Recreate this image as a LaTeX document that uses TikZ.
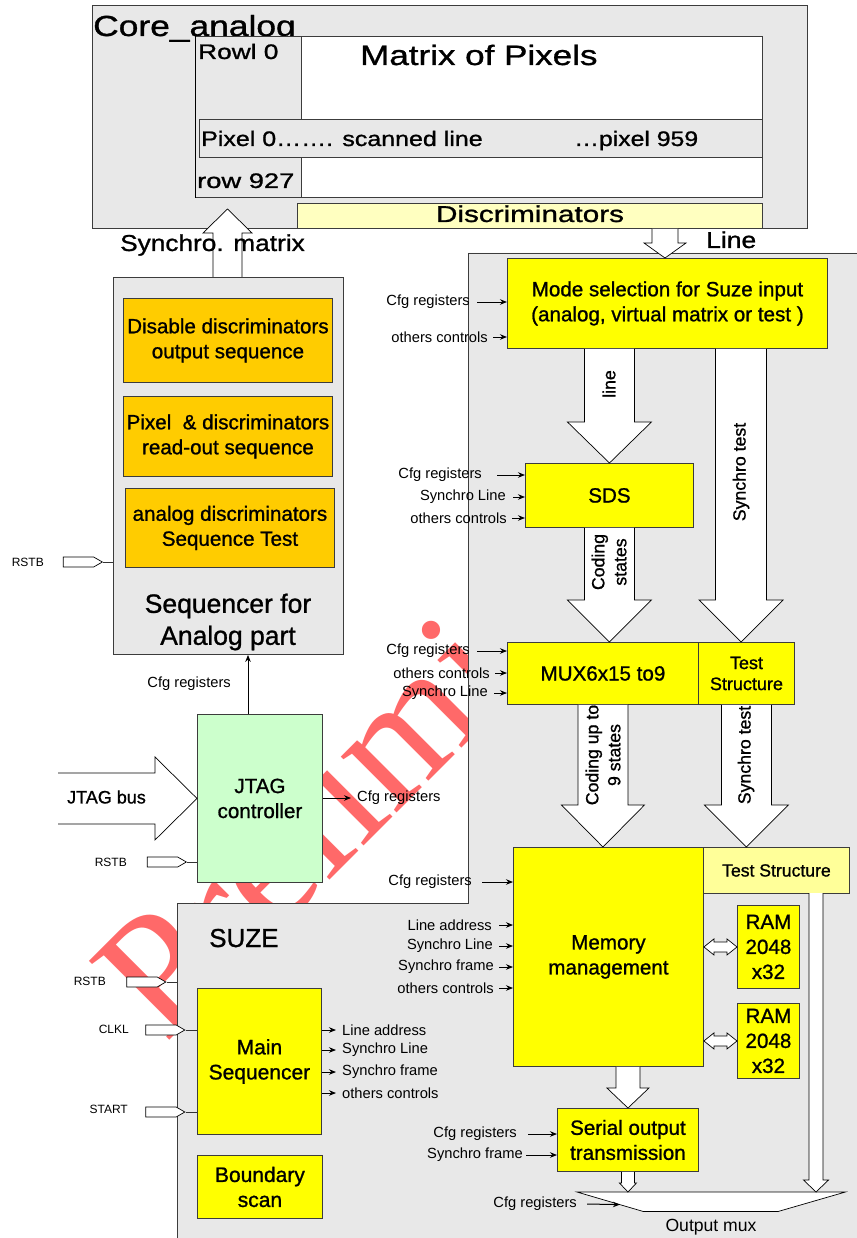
\documentclass[tikz,border=0pt]{standalone}
\usepackage{fontspec}
\usepackage{graphicx}
\setmainfont{Liberation Sans}
\newfontfamily\hv{Liberation Sans}[FakeBold=1.0]
\newfontfamily\wmfont{Liberation Serif}
\usetikzlibrary{calc,arrows.meta,shapes.symbols}
\definecolor{gbox}{RGB}{232,232,232}
\definecolor{lnc}{RGB}{60,60,60}
\definecolor{ylw}{RGB}{255,255,0}
\definecolor{org}{RGB}{255,204,0}
\definecolor{lgrn}{RGB}{204,255,204}
\definecolor{lylw}{RGB}{255,255,192}
\definecolor{lylw2}{RGB}{255,255,153}
\definecolor{wm}{RGB}{255,105,105}
\newcommand\sx[2]{\scalebox{#1}[1]{#2}}
% hollow block arrows: #1 start (y used), #2 tip, #3 shaft half, #4 head half, #5 head length
\newcommand\blkdown[5]{\draw[harrow] let \p1=(#1), \p2=(#2) in
  (\x2-#3,\y1) -- (\x2-#3,\y2+#5) -- (\x2-#4,\y2+#5) -- (\x2,\y2) -- (\x2+#4,\y2+#5) -- (\x2+#3,\y2+#5) -- (\x2+#3,\y1);}
\newcommand\blkup[5]{\draw[harrow] let \p1=(#1), \p2=(#2) in
  (\x2-#3,\y1) -- (\x2-#3,\y2-#5) -- (\x2-#4,\y2-#5) -- (\x2,\y2) -- (\x2+#4,\y2-#5) -- (\x2+#3,\y2-#5) -- (\x2+#3,\y1);}
\newcommand\blkright[5]{\draw[harrow] let \p1=(#1), \p2=(#2) in
  (\x1,\y2+#3) -- (\x2-#5,\y2+#3) -- (\x2-#5,\y2+#4) -- (\x2,\y2) -- (\x2-#5,\y2-#4) -- (\x2-#5,\y2-#3) -- (\x1,\y2-#3);}
\newcommand\blkdbl[5]{\draw[harrow] let \p1=(#1), \p2=(#2) in
  (\x1,\y1) -- (\x1+#5,\y1+#4) -- (\x1+#5,\y1+#3) -- (\x2-#5,\y1+#3) -- (\x2-#5,\y1+#4) -- (\x2,\y1)
  -- (\x2-#5,\y1-#4) -- (\x2-#5,\y1-#3) -- (\x1+#5,\y1-#3) -- (\x1+#5,\y1-#4) -- cycle;}
\begin{document}
\begin{tikzpicture}[x=1pt,y=-1pt,
  box/.style={draw=lnc, line width=0.9pt, inner sep=0pt, align=center},
  gbx/.style={box, fill=gbox},
  ybx/.style={box, fill=ylw},
  obx/.style={box, fill=org},
  nw/.style={anchor=north west},
  harrow/.style={draw=black, fill=white, line width=0.7pt, line join=miter},
  sarr/.style={draw=black, line width=1pt, -{Stealth[length=7pt,width=5.5pt]}},
  wire/.style={draw=black!80, line width=0.8pt},
  pinbox/.style={draw=black, line width=0.7pt, fill=white, signal, signal to=east, signal pointer angle=60, minimum width=39pt, minimum height=10pt, inner sep=0pt},
  lbls/.style={font=\fontsize{14.7}{17}\selectfont, inner sep=0pt},
  lbrs/.style={font=\fontsize{12}{14}\selectfont, inner sep=0pt},
  arrl/.style={font=\hv\fontsize{17.7}{22}\selectfont, inner sep=0pt, align=center, rotate=90},
  fbig/.style={font=\hv\fontsize{20.6}{25}\selectfont},
]
\useasboundingbox (0,0) rectangle (856,1238);

% watermark
\node[font=\wmfont\fontsize{172}{172}\selectfont, text=wm, rotate=45, anchor=base west, inner sep=0pt] (wmark) at (165,1045) {Preliminary};

% Core analog
\node[gbx, nw, minimum width=715pt, minimum height=223pt] (core) at (92,5) {};
\node[anchor=base west, inner sep=0pt, font=\hv\fontsize{29}{29}\selectfont] (coret) at (93,36) {\sx{1.22}{Core\_analog}};
\node[box, fill=white, nw, minimum width=567pt, minimum height=161pt] (pixm) at (195,36) {};
\node[gbx, nw, minimum width=106pt, minimum height=161pt] (rowcol) at (195,36) {};
\draw[black, line width=1pt] (rowcol.north west) -- (rowcol.south west);
\node[anchor=base west, inner sep=0pt, font=\hv\fontsize{21}{21}\selectfont] (row0) at (198,59) {\sx{1.25}{Rowl 0}};
\node[anchor=base west, inner sep=0pt, font=\hv\fontsize{28}{28}\selectfont] (mtitle) at (360,65) {\sx{1.25}{Matrix of Pixels}};
\node[gbx, nw, minimum width=563pt, minimum height=38pt] (scan) at (199,119) {};
\node[anchor=base west, inner sep=0pt, font=\hv\fontsize{21}{21}\selectfont] (scanl) at (201,146) {\sx{1.19}{Pixel 0……. scanned line}};
\node[anchor=base west, inner sep=0pt, font=\hv\fontsize{21}{21}\selectfont] (scanr) at (574,146) {\sx{1.18}{…pixel 959}};
\node[anchor=base west, inner sep=0pt, font=\hv\fontsize{21}{21}\selectfont] (row927) at (197,188) {\sx{1.3}{row 927}};
\node[box, fill=lylw, nw, minimum width=465pt, minimum height=25pt] (disc) at (297,203) {};
\node[anchor=base, inner sep=0pt, font=\hv\fontsize{23}{23}\selectfont] (disct) at (530,222) {\sx{1.29}{Discriminators}};

% Sequencer for analog part
\node[gbx, nw, minimum width=230pt, minimum height=377pt] (seq) at (113,277) {};
\node[obx, nw, fbig, minimum width=209pt, minimum height=84pt] (sq1) at (123,298) {Disable discriminators\\output sequence};
\node[obx, nw, fbig, minimum width=209pt, minimum height=80pt] (sq2) at (123,396) {Pixel\ \ \& discriminators\\read-out sequence};
\node[obx, nw, fbig, minimum width=209pt, minimum height=79pt] (sq3) at (125,488) {analog discriminators\\Sequence Test};
\node[inner sep=0pt, align=center, font=\hv\fontsize{26.5}{32}\selectfont] (seqt) at (228,622) {Sequencer for\\Analog part};
\node[pinbox] (rst1) at (78.5,562) {};
\node[lbrs, anchor=east] (rst1l) at (44,562) {RSTB};
\draw[wire] (rst1.east) -- (rst1 -| seq.west);

% Synchro matrix arrow
\coordinate (smtip) at (227.5,209);
\blkup{seq.north}{smtip}{14.5pt}{24.5pt}{24pt}
\node[anchor=base west, inner sep=0pt, font=\hv\fontsize{23}{23}\selectfont] (smt) at (120,251) {\sx{1.14}{Synchro. matrix}};

% SUZE region
\coordinate (suzeL) at (177,903);
\fill[gbox] (468,253) -- (860,253) -- (860,1240) -- (177,1240) -- (177,903) -- (468,903) -- cycle;
\draw[lnc, line width=0.9pt] (177,1240) -- (suzeL) -- (468,903) -- (468,253) -- (860,253);
\node[anchor=base west, inner sep=0pt, font=\hv\fontsize{26}{26}\selectfont] (suzet) at (209,947) {SUZE};

% Mode selection
\node[ybx, nw, fbig, minimum width=320pt, minimum height=90pt] (mode) at (507,258) {Mode selection for Suze input\\(analog, virtual matrix or test )};
\node[lbls, anchor=east] (mi1) at (470,302) {Cfg registers};
\draw[sarr] ([xshift=7pt]mi1.east) -- (mi1 -| mode.west);
\node[lbls, anchor=east] (mi2) at (488,337) {others controls};
\draw[sarr] ([xshift=5pt]mi2.east) -- (mi2 -| mode.west);

% Line arrow
\coordinate (lntip) at (665,258);
\blkdown{disc.south}{lntip}{13pt}{21pt}{15pt}
\node[anchor=base west, inner sep=0pt, font=\hv\fontsize{23}{23}\selectfont] (linet) at (706,248) {\sx{1.15}{Line}};

% JTAG
\node[box, fill=lgrn, nw, fbig, minimum width=125pt, minimum height=168pt] (jtag) at (197,714) {JTAG\\controller};
\coordinate (jbs) at (58,798);
\blkright{jbs}{jtag.west}{25.5pt}{41.5pt}{42pt}
\node[inner sep=0pt, font=\hv\fontsize{18}{18}\selectfont] (jbl) at (106.5,797) {JTAG bus};
\coordinate (jup) at (248,714);
\draw[sarr] (jup) -- (jup |- seq.south);
\node[lbls, anchor=east] (jupl) at (231,684) {Cfg registers};
\node[lbls, anchor=west] (jrl) at (357,798) {Cfg registers};
\draw[sarr] (jtag.east |- jrl) -- ([xshift=-6pt]jrl.west);
\node[pinbox] (rst2) at (162.5,862) {};
\node[lbrs, anchor=east] (rst2l) at (127,862) {RSTB};
\draw[wire] (rst2.east) -- (rst2 -| jtag.west);

% SDS
\node[ybx, nw, fbig, minimum width=168pt, minimum height=64pt] (sds) at (525,463) {SDS};
\node[lbls, anchor=east] (si1) at (482,475) {Cfg registers};
\draw[sarr] ([xshift=15pt]si1.east) -- (si1 -| sds.west);
\node[lbls, anchor=east] (si2) at (506,497) {Synchro Line};
\draw[sarr] ([xshift=7pt]si2.east) -- (si2 -| sds.west);
\node[lbls, anchor=east] (si3) at (507,518) {others controls};
\draw[sarr] ([xshift=5pt]si3.east) -- (si3 -| sds.west);

% MUX and test structure
\node[ybx, nw, fbig, minimum width=191pt, minimum height=62pt] (mux) at (507,642) {MUX6x15 to9};
\node[ybx, nw, font=\hv\fontsize{18}{21}\selectfont, minimum width=96pt, minimum height=62pt] (test1) at (698,642) {Test\\Structure};
\node[lbls, anchor=east] (xi1) at (470,651) {Cfg registers};
\draw[sarr] ([xshift=7pt]xi1.east) -- (xi1 -| mux.west);
\node[lbls, anchor=east] (xi2) at (490,673) {others controls};
\draw[sarr] ([xshift=5pt]xi2.east) -- (xi2 -| mux.west);
\node[lbls, anchor=east] (xi3) at (488,693) {Synchro Line};
\draw[sarr] ([xshift=6pt]xi3.east) -- (xi3 -| mux.west);

% block arrows in SUZE
\blkdown{mode.south}{sds.north}{25pt}{42pt}{41pt}
\node[arrl] (linel) at (609,384) {line};
\coordinate (st1tip) at (741,642);
\blkdown{mode.south}{st1tip}{25.5pt}{42pt}{42pt}
\node[arrl] (st1l) at (741,472) {Synchro test};
\coordinate (cstip) at (sds.south |- mux.north);
\blkdown{sds.south}{cstip}{25pt}{42pt}{42pt}
\node[arrl] (csl) at (609,562) {Coding\\states};

% Memory
\node[ybx, nw, fbig, minimum width=190pt, minimum height=219pt] (mem) at (513,847) {Memory\\management};
\node[box, fill=lylw2, nw, font=\hv\fontsize{17.6}{21}\selectfont, minimum width=146pt, minimum height=46pt] (test2) at (703,847) {Test Structure};
\coordinate (cutip) at (mux.south |- mem.north);
\blkdown{mux.south}{cutip}{25pt}{41.5pt}{42pt}
\node[arrl] (cul) at (603,755) {Coding up to\\9 states};
\coordinate (st2tip) at (test1.south |- test2.north);
\blkdown{test1.south}{st2tip}{25pt}{42pt}{42pt}
\node[arrl] (st2l) at (746,755) {Synchro test};
\node[lbls, anchor=east] (ei1) at (472,882) {Cfg registers};
\draw[sarr] ([xshift=10pt]ei1.east) -- (ei1 -| mem.west);
\node[lbls, anchor=east] (ei2) at (492,925) {Line address};
\draw[sarr] ([xshift=7pt]ei2.east) -- (ei2 -| mem.west);
\node[lbls, anchor=east] (ei3) at (493,946) {Synchro Line};
\draw[sarr] ([xshift=6pt]ei3.east) -- (ei3 -| mem.west);
\node[lbls, anchor=east] (ei4) at (494,967) {Synchro frame};
\draw[sarr] ([xshift=5pt]ei4.east) -- (ei4 -| mem.west);
\node[lbls, anchor=east] (ei5) at (494,988) {others controls};
\draw[sarr] ([xshift=5pt]ei5.east) -- (ei5 -| mem.west);

% RAMs
\node[ybx, nw, fbig, minimum width=62pt, minimum height=83pt] (ram1) at (737,905) {RAM\\2048\\x32};
\node[ybx, nw, fbig, minimum width=62pt, minimum height=75pt] (ram2) at (737,1003) {RAM\\2048\\x32};
\blkdbl{mem.east |- ram1}{ram1.west}{5pt}{8pt}{10pt}
\blkdbl{mem.east |- ram2}{ram2.west}{5pt}{8pt}{10pt}

% Serial output
\node[ybx, nw, fbig, minimum width=141pt, minimum height=63pt] (serial) at (557,1108) {Serial output\\transmission};
\blkdown{mem.south}{serial.north}{12pt}{21pt}{20pt}
\node[lbls, anchor=east] (ri1) at (517,1134) {Cfg registers};
\draw[sarr] ([xshift=11pt]ri1.east) -- (ri1 -| serial.west);
\node[lbls, anchor=east] (ri2) at (523,1155) {Synchro frame};
\draw[sarr] ([xshift=3pt]ri2.east) -- (ri2 -| serial.west);

% Output mux
\node[minimum width=268pt, minimum height=19pt, inner sep=0pt, nw] (omux) at (577,1192) {};
\draw[harrow] (omux.north west) -- (omux.north east) -- ([xshift=-67pt]omux.south east) -- ([xshift=66pt]omux.south west) -- cycle;
\node[font=\fontsize{17.6}{20}\selectfont, inner sep=0pt] (omuxl) at (711,1227) {Output mux};
\coordinate (sotip) at (serial.south |- omux.north);
\blkdown{serial.south}{sotip}{6.5pt}{8.5pt}{9pt}
\coordinate (t2o) at (816,893);
\coordinate (t2tip) at (t2o |- omux.north);
\blkdown{t2o}{t2tip}{7pt}{12.5pt}{12pt}
\coordinate (mxc) at ($(omux.north west)!0.65!([xshift=66pt]omux.south west)$);
\node[lbls, anchor=east] (mxl) at (577,1204) {Cfg registers};
\draw[sarr] ([xshift=10pt]mxl.east) -- (mxc);

% Main sequencer
\node[ybx, nw, font=\hv\fontsize{21}{25}\selectfont, minimum width=124pt, minimum height=146pt] (ms) at (197,988) {Main\\Sequencer};
\node[ybx, nw, font=\hv\fontsize{21}{25}\selectfont, minimum width=125pt, minimum height=63pt] (bscan) at (197,1155) {Boundary\\scan};
\node[lbls, anchor=west] (mo1) at (342,1030) {Line address};
\node[lbls, anchor=west] (mo2) at (342,1050) {Synchro Line};
\node[lbls, anchor=west] (mo3) at (342,1072) {Synchro frame};
\node[lbls, anchor=west] (mo4) at (342,1093) {others controls};
\foreach \m in {mo1,mo2,mo3,mo4} \draw[sarr] (ms.east |- \m) -- ([xshift=-6pt]\m.west);
\node[pinbox] (rst3) at (142,982) {};
\node[lbrs, anchor=east] (rst3l) at (106,981) {RSTB};
\draw[wire] (rst3.east) -- (rst3 -| suzeL);
\node[pinbox] (clk) at (161,1030) {};
\node[lbrs, anchor=east] (clkl) at (129,1029) {CLKL};
\draw[wire] (clk.east) -- (clk -| ms.west);
\node[pinbox] (stt) at (161,1112) {};
\node[lbrs, anchor=east] (sttl) at (128,1109) {START};
\draw[wire] (stt.east) -- (stt -| ms.west);
\end{tikzpicture}
\end{document}
